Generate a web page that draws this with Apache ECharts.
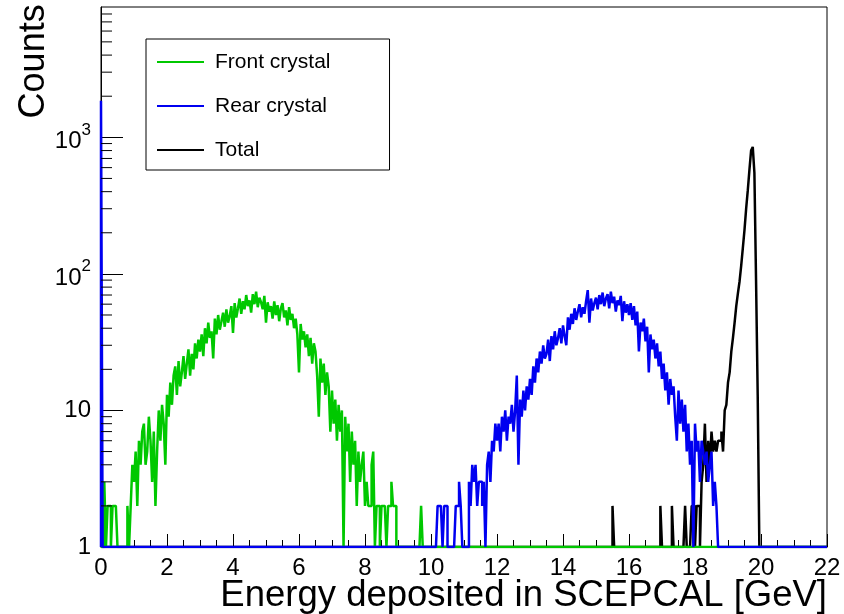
<!DOCTYPE html>
<html>
<head>
<meta charset="utf-8">
<script src="https://cdn.jsdelivr.net/npm/echarts@6/dist/echarts.min.js"></script>
<style>
html,body{margin:0;padding:0;background:#fff;}
#chart{width:844px;height:614px;}
</style>
</head>
<body>
<div id="chart"></div>
<script>
// ---------------- data ----------------
const binWidth = 0.05;           // GeV per bin
const xMin = 0, xMax = 22;
const yMin = 1, yMax = 9000;

const seriesNames = ['Front crystal', 'Rear crystal', 'Total'];
const xTitle = 'Energy deposited in SCEPCAL [GeV]';
const yTitle = 'Counts';

// Front crystal: bins starting at 0.00 GeV
const frontStart = 0.0;
const frontCounts = [
  0,0,3,0,2,2,1,2,2,2,0,0,0,0,0,0,2,0,2,4,                      // 0.00-0.95
  3,5,2,6,4,7,8,4,5,9,6,3,7,2,5,10,6,11,8,4,                    // 1.00-1.95
  13,9,16,11,18,21,13,23,15,19,25,17,22,28,18,26,20,31,24,33,   // 2.00-2.95
  27,36,25,40,31,44,34,38,24,47,36,50,39,45,52,41,55,44,49,58,  // 3.00-3.95
  37,61,48,56,66,51,63,55,70,58,64,52,71,60,74,57,67,62,55,69,  // 4.00-4.95
  44,62,53,58,47,63,50,59,45,56,61,48,54,42,57,46,51,40,47,36,  // 5.00-5.95
  19,43,33,38,29,36,25,34,22,31,27,18,9,24,16,22,13,19,15,7,    // 6.00-6.95
  14,8,12,6,11,7,10,0,9,5,8,3,7,4,6,2,5,3,4,5,                  // 7.00-7.95
  2,3,2,2,4,5,0,2,2,1,2,2,2,0,2,2,3,2,2,0,                      // 8.00-8.95
  0,0,0,0,0,0,0,0,0,0,0,0,0,0,2,0,0,0,0,0                       // 9.00-9.95
];

// Rear crystal: bin at 0 GeV, then bins starting at 10.00 GeV
const rearZeroBin = 1850;
const rearStart = 10.0;
const rearCounts = [
  0,0,0,0,2,2,2,1,2,2,0,0,0,0,0,2,2,3,2,0,                      // 10.00-10.95
  0,0,0,3,2,4,3,4,2,3,3,2,3,0,4,5,3,6,5,8,                      // 11.00-11.95
  6,8,5,9,7,10,6,9,8,11,7,10,18,4,12,9,14,10,15,12,             // 12.00-12.95
  17,13,21,16,24,19,27,22,30,24,26,33,23,35,28,38,30,34,40,31,  // 13.00-13.95
  42,35,30,48,39,51,43,56,46,53,60,48,57,51,63,76,44,66,54,61,  // 14.00-14.95
  67,55,70,60,73,58,66,71,56,74,61,68,53,64,59,69,45,63,52,60,  // 15.00-15.95
  50,61,46,58,42,53,27,44,38,47,32,41,19,36,28,33,24,31,21,27,  // 16.00-16.95
  17,22,14,19,11,17,13,15,9,6,14,8,12,7,11,5,8,4,6,0,           // 17.00-17.95
  8,5,6,3,6,5,4,5,3,4,5,2,3,2,1,0,0,0,0,0                       // 18.00-18.95
];

// Total: bins starting at 15.00 GeV
const totalStart = 15.0;
const totalCounts = [
  0,0,0,0,0,0,0,0,0,0,2,0,0,0,0,0,0,0,0,0,                      // 15.00-15.95
  0,0,0,0,0,0,0,0,0,0,0,0,0,0,0,0,0,0,0,2,                      // 16.00-16.95
  0,0,0,0,0,0,2,0,0,0,0,0,0,0,2,0,0,0,2,2,                      // 17.00-17.95
  1,2,2,1,3,4,8,3,6,4,7,5,6,5,6,6,7,5,10,11,                    // 18.00-18.95
  16,19,27,34,44,58,72,88,115,155,210,300,410,580,800,850,550,90,13,0 // 19.00-19.95
];

const xTickInterval = 2;
const yMinorTicks = [2,3,4,5,6,7,8,9,20,30,40,50,60,70,80,90,200,300,400,500,600,700,800,900,2000,3000,4000,5000,6000,7000,8000];

// ---------------- build ----------------
const nBins = Math.round((xMax - xMin) / binWidth);
function fullHist(start, counts, extra) {
  const arr = new Array(nBins).fill(0);
  const off = Math.round((start - xMin) / binWidth);
  counts.forEach((c, i) => { arr[off + i] = c; });
  if (extra) extra.forEach(([idx, c]) => { arr[idx] = c; });
  return arr;
}
function toSteps(arr) {
  const pts = [[xMin, yMin]];
  arr.forEach((c, i) => { pts.push([xMin + i * binWidth, Math.max(c, yMin)]); });
  pts.push([xMax, Math.max(arr[arr.length - 1], yMin)]);
  return pts;
}
const frontHist = fullHist(frontStart, frontCounts);
const rearHist = fullHist(rearStart, rearCounts, [[0, rearZeroBin]]);
const totalHist = fullHist(totalStart, totalCounts);

const FONT = 'Liberation Sans, Arial, Helvetica, sans-serif';
const colors = { front: '#00c800', rear: '#0000f0', total: '#000000' };

function histSeries(name, data, color, z) {
  return {
    name, type: 'line', step: 'end', data, symbol: 'none', showSymbol: false,
    lineStyle: { color, width: 2.5 }, itemStyle: { color }, z, silent: true,
    animation: false
  };
}

const chart = echarts.init(document.getElementById('chart'), null, { renderer: 'canvas' });
chart.setOption({
  backgroundColor: '#fff',
  animation: false,
  grid: { left: 101, right: 17, top: 7, bottom: 67, show: true, borderColor: '#000', borderWidth: 1, backgroundColor: 'transparent', containLabel: false, outerBoundsMode: 'none' },
  graphic: [{
    type: 'text', right: 17, top: 577, silent: true,
    style: { text: xTitle, fill: '#000', font: '36.5px ' + FONT }
  }],
  xAxis: {
    type: 'value', min: xMin, max: xMax, interval: xTickInterval,
    axisLine: { lineStyle: { color: '#000', width: 1 } },
    axisTick: { inside: true, length: 13, lineStyle: { color: '#000' } },
    minorTick: { show: true, splitNumber: 4, length: 7, lineStyle: { color: '#000' } },
    splitLine: { show: false },
    axisLabel: { fontFamily: FONT, fontSize: 24, color: '#000', margin: 9 }
  },
  yAxis: {
    type: 'log', logBase: 10, min: yMin, max: yMax,
    name: yTitle, nameLocation: 'end', nameGap: 0, nameRotate: 90,
    nameTextStyle: { fontFamily: FONT, fontSize: 36, color: '#000', align: 'right', verticalAlign: 'bottom', padding: [0, 0, 49, 0] },
    axisLine: { lineStyle: { color: '#000', width: 1 } },
    axisTick: { inside: true, length: 22, lineStyle: { color: '#000' } },
    splitLine: { show: false },
    axisLabel: {
      fontFamily: FONT, fontSize: 24, color: '#000', margin: 10, showMaxLabel: false,
      formatter: function (v) {
        const e = Math.round(Math.log10(v));
        if (e === 0) return '1';
        if (e === 1) return '10';
        return '{b|10}{s|' + e + '}';
      },
      rich: {
        b: { fontFamily: FONT, fontSize: 24, color: '#000', padding: [8, 0, 0, 0] },
        s: { fontFamily: FONT, fontSize: 17, color: '#000', verticalAlign: 'top' }
      }
    }
  },
  legend: {
    data: seriesNames, orient: 'vertical', left: 146, top: 39,
    backgroundColor: '#fff', borderColor: '#000', borderWidth: 1, borderRadius: 0,
    padding: [12, 59, 9, 11], itemWidth: 47, itemHeight: 2, itemGap: 22, icon: 'rect',
    selectedMode: false,
    textStyle: { fontFamily: FONT, fontSize: 21, color: '#000', padding: [0, 0, 0, 6], lineHeight: 22 }
  },
  series: [
    histSeries('Total', toSteps(totalHist), colors.total, 2),
    histSeries('Front crystal', toSteps(frontHist), colors.front, 3),
    histSeries('Rear crystal', toSteps(rearHist), colors.rear, 4),
    {
      name: 'yMinorTicks', type: 'custom', coordinateSystem: 'cartesian2d', silent: true, z: 5,
      data: yMinorTicks.map(v => [xMin, v]),
      renderItem: function (params, api) {
        const p = api.coord([xMin, api.value(1)]);
        return { type: 'line', shape: { x1: p[0], y1: p[1], x2: p[0] + 11, y2: p[1] }, style: { stroke: '#000', lineWidth: 1 } };
      }
    }
  ]
});
</script>
</body>
</html>
